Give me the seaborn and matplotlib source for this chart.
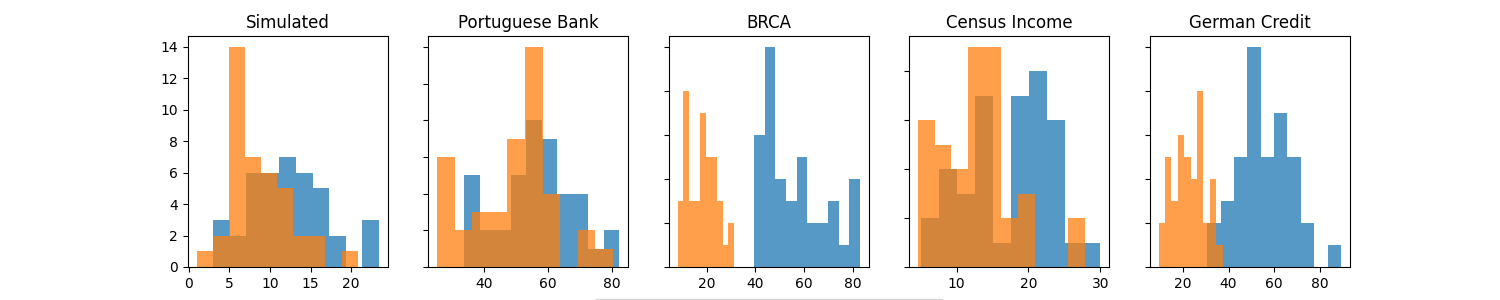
import numpy as np
import pandas as pd
import matplotlib
matplotlib.use("Agg")
import matplotlib.pyplot as plt
from matplotlib.patches import Patch
from matplotlib.ticker import MaxNLocator
import seaborn as sns

# paneles (titulos) y datos: rango de bins + conteos por bin
titulos = ["Simulated", "Portuguese Bank", "BRCA", "Census Income", "German Credit"]

# grupo 1 (azul)
rango_azul = [(3.0, 23.4), (33.7, 82.3), (39.6, 83.0), (5.1, 30.0), (30.7, 89.4)]
conteo_azul = [
    [3, 2, 6, 6, 7, 6, 5, 2, 0, 3],
    [5, 2, 2, 5, 8, 7, 4, 4, 1, 2],
    [6, 10, 4, 3, 5, 2, 2, 3, 1, 4],
    [2, 4, 3, 7, 1, 7, 8, 6, 1, 1],
    [2, 3, 5, 10, 5, 7, 5, 2, 0, 1],
]

# grupo 2 (naranja)
rango_naranja = [(0.98, 20.8), (25.2, 80.3), (8.1, 31.2), (4.65, 27.8), (9.3, 37.4)]
conteo_naranja = [
    [1, 2, 14, 7, 6, 5, 2, 2, 0, 1],
    [6, 2, 3, 3, 7, 12, 4, 0, 2, 1],
    [3, 8, 3, 3, 7, 5, 5, 3, 1, 2],
    [6, 5, 4, 9, 9, 2, 3, 0, 0, 2],
    [2, 5, 3, 6, 5, 4, 8, 2, 4, 1],
]

etiquetas = ["Privileged group", "Unprivileged group"]
colores = ["#1f77b4", "#ff7f0e"]


def dibujar_hist(ax, rango, conteos, color):
    bordes = np.linspace(rango[0], rango[1], len(conteos) + 1)
    df = pd.DataFrame({"x": (bordes[:-1] + bordes[1:]) / 2, "n": conteos})
    sns.histplot(data=df, x="x", weights="n", bins=list(bordes), ax=ax, color=color,
                 alpha=0.75, linewidth=0, edgecolor="none", stat="count")


fig, axes = plt.subplots(1, 5, figsize=(15, 3))

for i, ax in enumerate(axes):
    dibujar_hist(ax, rango_azul[i], conteo_azul[i], colores[0])
    dibujar_hist(ax, rango_naranja[i], conteo_naranja[i], colores[1])
    ax.set_title(titulos[i])
    ax.set_xlabel("")
    ax.set_ylabel("")
    ax.xaxis.set_major_locator(MaxNLocator(nbins=5, steps=[1, 2, 2.5, 5, 10]))
    if i > 0:
        ax.tick_params(labelleft=False)

# leyenda debajo del panel central (queda casi fuera de la figura)
handles = [Patch(facecolor=c, alpha=0.75) for c in colores]
axes[2].legend(handles, etiquetas, loc="upper center", bbox_to_anchor=(0.5, -0.11),
               ncol=2, columnspacing=1.0)

plt.savefig("out.png", dpi=100)
